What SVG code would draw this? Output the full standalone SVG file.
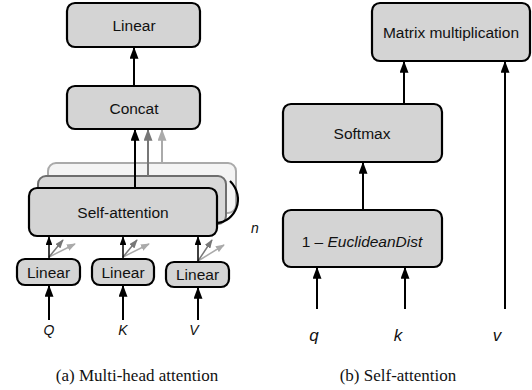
<svg xmlns="http://www.w3.org/2000/svg" width="532" height="390" viewBox="0 0 532 390">
<defs>
<marker id="ah" viewBox="0 0 10 10" refX="9" refY="5" markerWidth="6" markerHeight="4.5" orient="auto" markerUnits="strokeWidth" preserveAspectRatio="none"><path d="M0,0 L10,5 L0,10 z" fill="#000"/></marker>
<marker id="ahg" viewBox="0 0 10 10" refX="9" refY="5" markerWidth="6" markerHeight="4.5" orient="auto" markerUnits="strokeWidth" preserveAspectRatio="none"><path d="M0,0 L10,5 L0,10 z" fill="#777"/></marker>
<marker id="ahl" viewBox="0 0 10 10" refX="9" refY="5" markerWidth="6" markerHeight="4.5" orient="auto" markerUnits="strokeWidth" preserveAspectRatio="none"><path d="M0,0 L10,5 L0,10 z" fill="#aaa"/></marker>
</defs>
<style>
.box{fill:#d4d4d4;stroke:#000;stroke-width:2.2}
.t{font-family:"Liberation Sans",Arial,sans-serif;font-size:15.5px;fill:#111;text-anchor:middle;dominant-baseline:central}
.v{font-family:"Liberation Sans",Arial,sans-serif;font-style:italic;fill:#111;text-anchor:middle}
.cap{font-family:"Liberation Serif","Times New Roman",serif;font-size:17px;fill:#111;text-anchor:middle}
.a{stroke:#000;stroke-width:2;fill:none;marker-end:url(#ah)}
.ag{stroke:#777;stroke-width:2;fill:none;marker-end:url(#ahg)}
.al{stroke:#aaa;stroke-width:2;fill:none;marker-end:url(#ahl)}
.sg{stroke:#777;stroke-width:1.5;fill:none;marker-end:url(#ahg)}
.sl{stroke:#aaa;stroke-width:1.5;fill:none;marker-end:url(#ahl)}
.sa{stroke:#000;stroke-width:1.5;fill:none;marker-end:url(#ah)}
</style>

<g id="heads-back">
<rect x="48" y="163" width="188" height="50" rx="8" fill="#f4f4f4" stroke="#aaa" stroke-width="2"/>
<rect x="38" y="176" width="188" height="48" rx="8" fill="#d8d8d8" stroke="#6e6e6e" stroke-width="2"/>
</g>

<g id="connectors">
<line class="a" x1="134" y1="86" x2="134" y2="48"/>
<line class="al" x1="162" y1="163" x2="162" y2="130"/>
<line class="ag" x1="148" y1="176" x2="148" y2="130"/>
<line class="a" x1="135" y1="188" x2="135" y2="130"/>
<path d="M216,223 C236,222 246,197 230,181" stroke="#000" stroke-width="2.2" fill="none"/>
<line class="sl" x1="49" y1="257" x2="75" y2="244"/>
<line class="sg" x1="49" y1="257" x2="63" y2="240"/>
<line class="sa" x1="49" y1="259" x2="49" y2="237"/>
<line class="sl" x1="123" y1="257" x2="149" y2="244"/>
<line class="sg" x1="123" y1="257" x2="137" y2="240"/>
<line class="sa" x1="123" y1="259" x2="123" y2="237"/>
<line class="sl" x1="198" y1="261" x2="224" y2="245"/>
<line class="sg" x1="198" y1="261" x2="212" y2="240"/>
<line class="sa" x1="198" y1="262" x2="198" y2="237"/>
<line class="a" x1="49" y1="320" x2="49" y2="286"/>
<line class="a" x1="123" y1="320" x2="123" y2="286"/>
<line class="a" x1="198" y1="320" x2="198" y2="288"/>
<line class="a" x1="404" y1="104" x2="404" y2="62"/>
<line class="a" x1="505" y1="309" x2="505" y2="62"/>
<line class="a" x1="363" y1="210" x2="363" y2="163"/>
<line class="a" x1="317" y1="309" x2="317" y2="268"/>
<line class="a" x1="405" y1="309" x2="405" y2="268"/>
</g>

<g id="linear-top"><rect class="box" x="67" y="3" width="133" height="44" rx="8"/><text class="t" x="134" y="25">Linear</text></g>
<g id="concat"><rect class="box" x="67" y="86" width="133" height="43" rx="8"/><text class="t" x="134" y="108">Concat</text></g>
<g id="self-attention"><rect class="box" x="29" y="188" width="188" height="48" rx="8"/><text class="t" x="123" y="212">Self-attention</text></g>
<g id="linear-q"><rect class="box" x="17" y="259" width="63" height="26" rx="8"/><text class="t" x="48.5" y="272">Linear</text></g>
<g id="linear-k"><rect class="box" x="92" y="259" width="62" height="26" rx="8"/><text class="t" x="123" y="272">Linear</text></g>
<g id="linear-v"><rect class="box" x="166" y="262" width="63" height="25" rx="8"/><text class="t" x="197.5" y="274.5">Linear</text></g>
<g id="n-label"><text class="v" x="255" y="233" font-size="14">n</text></g>
<g id="inputs-a">
<text class="v" x="49" y="335" font-size="14">Q</text>
<text class="v" x="123" y="335" font-size="14">K</text>
<text class="v" x="194" y="335" font-size="14">V</text>
</g>

<g id="matmul"><rect class="box" x="372" y="3" width="158" height="58" rx="8"/><text class="t" x="451" y="32">Matrix multiplication</text></g>
<g id="softmax"><rect class="box" x="283" y="104" width="159" height="58" rx="8"/><text class="t" x="362" y="133">Softmax</text></g>
<g id="euclid"><rect class="box" x="283" y="210" width="159" height="57" rx="8"/><text class="t" x="362" y="241">1 – <tspan font-style="italic">EuclideanDist</tspan></text></g>
<g id="inputs-b">
<text class="v" x="314" y="341" font-size="17">q</text>
<text class="v" x="398" y="341" font-size="17">k</text>
<text class="v" x="497" y="341" font-size="17">v</text>
</g>

<text class="cap" x="137" y="381">(a)  Multi-head attention</text>
<text class="cap" x="398" y="381">(b)  Self-attention</text>
</svg>
